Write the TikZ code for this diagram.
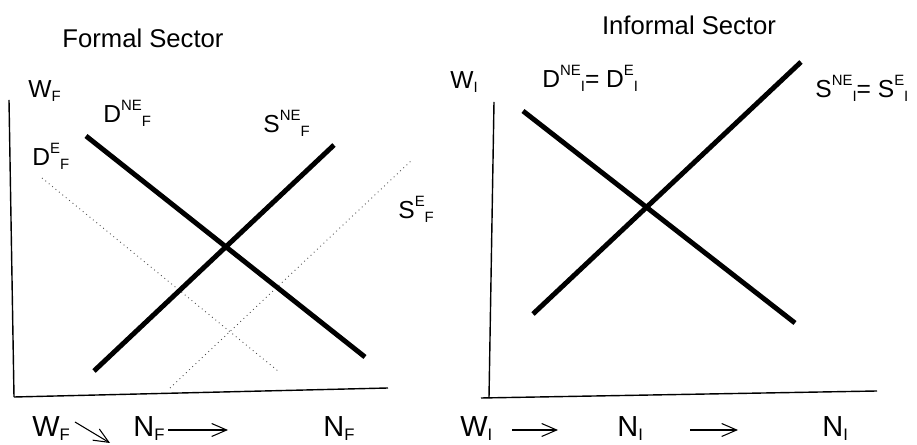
\documentclass[tikz,border=0pt]{standalone}
\usepackage{fontspec}
\setmainfont{Liberation Sans}
\usetikzlibrary{arrows.meta}

\newcommand{\up}[1]{\raisebox{7pt}{\fontsize{8.5}{9}\selectfont #1}}
\newcommand{\dn}[1]{\raisebox{-2.2pt}{\fontsize{8.5}{9}\selectfont #1}}
\newcommand{\dnb}[1]{\raisebox{-2pt}{\fontsize{9.5}{10}\selectfont #1}}

\begin{document}
\begin{tikzpicture}[
    x=0.02cm, y=-0.02cm,
    axis/.style={line width=0.8pt},
    curve/.style={line width=2.8pt},
    moved/.style={line width=0.5pt, dotted, black!70},
    lbl/.style={inner sep=0, anchor=base west, font=\fontsize{14}{15}\selectfont},
    botlbl/.style={inner sep=0, anchor=base west, font=\fontsize{16.5}{17}\selectfont},
    ttl/.style={inner sep=0, font=\fontsize{14.6}{16}\selectfont},
    flow/.style={-{Straight Barb[length=3mm, width=2.6mm]}, line width=0.6pt},
]
    \useasboundingbox (0,0) rectangle (917,445);

    % Formal sector
    \node[ttl] (tf) at (143,38) {Formal Sector};
    \draw[axis] (9,100) -- (14,397);
    \draw[axis] (14,397) -- (388,388);
    \draw[moved] (42,178) -- (278,371);
    \draw[moved] (170,388) -- (412,160);
    \draw[curve] (86,136) -- (365,357);
    \draw[curve] (94,371) -- (334,145);
    \node[lbl] (wf) at (28,98) {W\dn{F}};
    \node[lbl] (dnef) at (103,123) {D\up{NE}\dn{F}};
    \node[lbl] (snef) at (263,133) {S\up{NE}\dn{F}};
    \node[lbl] (def) at (32,166) {D\up{E}\dn{F}};
    \node[lbl] (sef) at (398,219) {S\up{E}\dn{F}};

    % Informal sector
    \node[ttl] (ti) at (689,25) {Informal Sector};
    \draw[axis] (494,102) -- (489,398);
    \draw[axis] (481,398) -- (877,391);
    \draw[curve] (523,111) -- (795,323);
    \draw[curve] (533,314) -- (801,62);
    \node[lbl] (wi) at (450,89) {W\dn{I}};
    \node[lbl] (di) at (542,88) {D\up{NE}\dn{I}= D\up{E}\dn{I}};
    \node[lbl] (si) at (815,98) {S\up{NE}\dn{I}= S\up{E}\dn{I}};

    % Bottom row
    \node[botlbl] (wfb) at (32,437) {W\dnb{F}};
    \node[botlbl] (nfb) at (133,437) {N\dnb{F}};
    \node[botlbl] (nfr) at (323,437) {N\dnb{F}};
    \node[botlbl] (wib) at (460,437) {W\dnb{I}};
    \node[botlbl] (nib) at (617,437) {N\dnb{I}};
    \node[botlbl] (nir) at (822,437) {N\dnb{I}};
    \coordinate (a1s) at (75,422);  \coordinate (a1e) at (110,443);
    \coordinate (a2s) at (168,430); \coordinate (a2e) at (228,430);
    \coordinate (a3s) at (512,430); \coordinate (a3e) at (558,430);
    \coordinate (a4s) at (690,430); \coordinate (a4e) at (738,430);
    \draw[flow] (a1s) -- (a1e);
    \draw[flow] (a2s) -- (a2e);
    \draw[flow] (a3s) -- (a3e);
    \draw[flow] (a4s) -- (a4e);
\end{tikzpicture}
\end{document}
